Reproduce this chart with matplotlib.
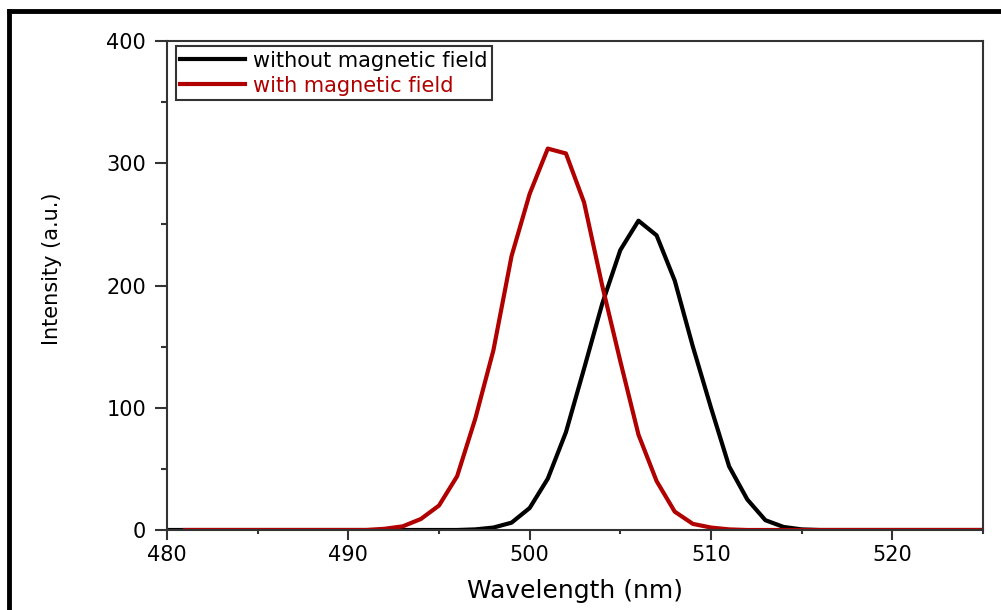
import numpy as np
import matplotlib
matplotlib.use("Agg")
import matplotlib.pyplot as plt
from matplotlib.lines import Line2D
from matplotlib.ticker import MultipleLocator

plt.rcParams['font.family'] = ['DejaVu Sans']

# wavelength grid (nm)
wl_without = np.arange(480, 526)
wl_with = np.arange(481, 526)

# intensity without magnetic field (black)
int_without = np.zeros(len(wl_without))
int_without[497 - 480:516 - 480] = [0.5, 2, 6, 18, 42, 80, 132, 185, 229, 253,
                                    241, 204, 150, 100, 52, 25, 8, 2.5, 0.5]

# intensity with magnetic field (red)
int_with = np.zeros(len(wl_with))
int_with[492 - 481:512 - 481] = [1, 3, 9, 20, 44, 91, 147, 224, 275, 312,
                                 308, 268, 200, 138, 78, 40, 15, 5, 2, 0.5]

labels = ['without magnetic field', 'with magnetic field']
colors = ['black', '#b00000']

fig = plt.figure(figsize=(10.01, 6.10), dpi=100, facecolor='white')
ax = fig.add_axes([167 / 1001, 1 - 530 / 610, 816 / 1001, 489 / 610])

ax.plot(wl_without, int_without, color=colors[0], lw=3, label=labels[0])
ax.plot(wl_with, int_with, color=colors[1], lw=3, label=labels[1])

ax.set_xlim(480, 525)
ax.set_ylim(0, 400)
ax.xaxis.set_major_locator(MultipleLocator(10))
ax.xaxis.set_minor_locator(MultipleLocator(5))
ax.yaxis.set_major_locator(MultipleLocator(100))
ax.yaxis.set_minor_locator(MultipleLocator(50))

for s in ax.spines.values():
    s.set_color('#333333')
    s.set_linewidth(1.5)

ax.tick_params(which='both', direction='out', color='#333333', width=1.5,
               top=False, right=False, labelsize=15)
ax.tick_params(axis='x', which='major', length=7, pad=4)
ax.tick_params(axis='x', which='minor', length=3)
ax.tick_params(axis='y', which='major', length=9, pad=6)
ax.tick_params(axis='y', which='minor', length=4.5)

ax.set_xlabel('Wavelength (nm)', fontsize=18)
ax.set_ylabel('Intensity (a.u.)', fontsize=15)
ax.xaxis.set_label_coords(0.5, -0.1)
ax.yaxis.set_label_coords(-0.129, 0.535)

leg = ax.legend(loc='upper left', bbox_to_anchor=(0.011, 0.989),
                borderaxespad=0, fontsize=15, handlelength=3.1,
                handletextpad=0.4, labelspacing=0.25, borderpad=0.2,
                fancybox=False, framealpha=1, labelcolor='linecolor')
leg.get_frame().set_edgecolor('#333333')
leg.get_frame().set_linewidth(1.5)

# outer frame (left and top edges of the picture)
fig.add_artist(Line2D([9 / 1001, 1], [1 - 11 / 610, 1 - 11 / 610],
                      transform=fig.transFigure, color='black', lw=3.5))
fig.add_artist(Line2D([9 / 1001, 9 / 1001], [0, 1 - 11 / 610],
                      transform=fig.transFigure, color='black', lw=3.5))

fig.savefig('out.png', dpi=100)
